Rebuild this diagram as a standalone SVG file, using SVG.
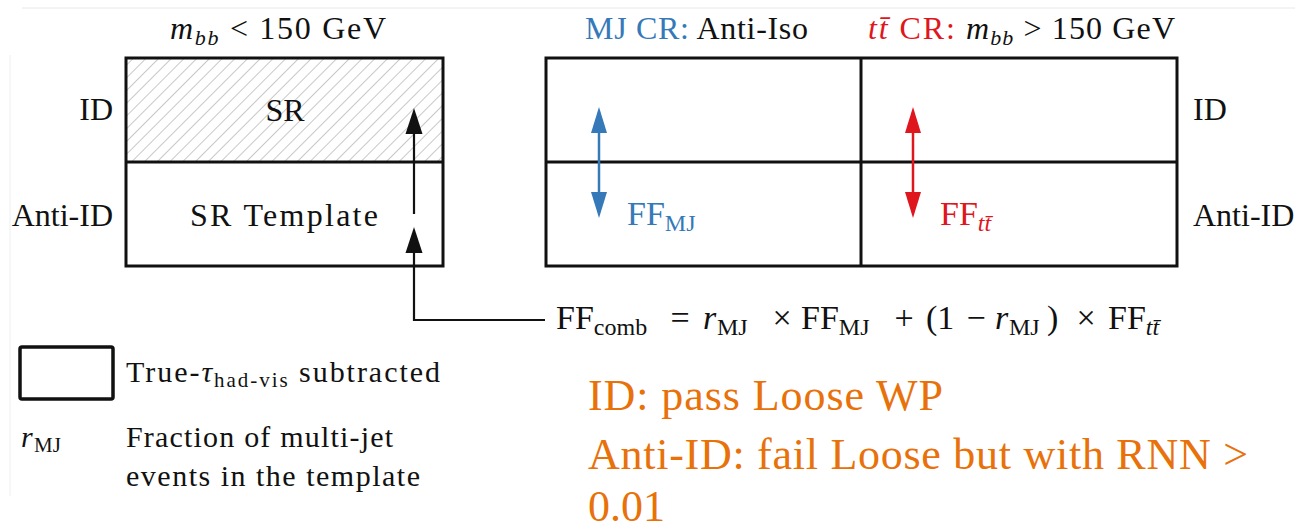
<svg xmlns="http://www.w3.org/2000/svg" width="1295" height="529" viewBox="0 0 1295 529">
<style>
text{font-family:"Liberation Serif","Times New Roman",serif;fill:#111}
.m{font-size:32px}
.f{font-size:34px}
.s{font-size:22px}
.fs{font-size:24px}
.l{font-size:30px}
.ls{font-size:21px}
.i{font-style:italic}
.blue{fill:#3579b8}
.red{fill:#e0161e}
.org{font-size:44px;fill:#e8710a}
.box{fill:none;stroke:#111;stroke-width:3}
.ln{stroke:#111;stroke-width:3;fill:none}
</style>
<defs>
<pattern id="hatch" patternUnits="userSpaceOnUse" width="9" height="9" patternTransform="rotate(45)">
<line x1="0" y1="0" x2="0" y2="9" stroke="#9a9a9a" stroke-width="1.1"/>
</pattern>
</defs>
<rect width="1295" height="529" fill="#fff"/>
<line x1="22" y1="8" x2="1295" y2="8" stroke="#e8e8e8" stroke-width="1"/>
<line x1="10" y1="55" x2="10" y2="496" stroke="#eeeeee" stroke-width="1"/>

<g id="sr-region">
<rect x="126" y="58" width="317" height="104" fill="url(#hatch)"/>
<rect class="box" x="126" y="58" width="317" height="208"/>
<line class="ln" x1="126" y1="162" x2="443" y2="162"/>
<text class="m" x="285" y="121" text-anchor="middle">SR</text>
<text class="m" x="190" y="226" textLength="188" lengthAdjust="spacing">SR Template</text>
<text class="m" x="113" y="120" text-anchor="end">ID</text>
<text class="m" x="113" y="226" text-anchor="end">Anti-ID</text>
<text class="m" x="170" y="39" textLength="216" lengthAdjust="spacing"><tspan class="i">m</tspan><tspan class="s i" dy="6">bb</tspan><tspan dy="-6"> &lt; 150 GeV</tspan></text>
</g>

<g id="cr-region">
<rect class="box" x="546" y="58" width="631" height="208"/>
<line class="ln" x1="861" y1="58" x2="861" y2="266"/>
<line class="ln" x1="546" y1="162" x2="1177" y2="162"/>
<text class="m" x="1193" y="120">ID</text>
<text class="m" x="1193" y="226">Anti-ID</text>
<text class="m" x="585" y="39" textLength="223" lengthAdjust="spacing"><tspan class="blue">MJ CR:</tspan> Anti-Iso</text>
<text class="m" x="868" y="39" textLength="87" lengthAdjust="spacing"><tspan class="red i">tt̄</tspan><tspan class="red"> CR:</tspan></text>
<text class="m" x="966" y="39" textLength="209" lengthAdjust="spacing"><tspan class="i">m</tspan><tspan class="s i" dy="6">bb</tspan><tspan dy="-6"> &gt; 150 GeV</tspan></text>
</g>

<g id="ff-mj">
<line x1="599" y1="128" x2="599" y2="198" stroke="#3579b8" stroke-width="2.5"/>
<polygon points="599,107 591,133 607,133" fill="#3579b8"/>
<polygon points="599,218 591,192 607,192" fill="#3579b8"/>
<text class="f blue" x="627" y="225">FF<tspan class="fs blue" dy="6">MJ</tspan></text>
</g>

<g id="ff-tt">
<line x1="913" y1="128" x2="913" y2="198" stroke="#e0161e" stroke-width="2.5"/>
<polygon points="913,107 905,133 921,133" fill="#e0161e"/>
<polygon points="913,218 905,192 921,192" fill="#e0161e"/>
<text class="f red" x="940" y="225">FF<tspan class="fs red i" dy="6">tt̄</tspan></text>
</g>

<g id="connectors">
<polyline points="545,320 414,320 414,250" fill="none" stroke="#111" stroke-width="2.2"/>
<polygon points="414,227 405.5,253 422.5,253" fill="#111"/>
<line x1="414" y1="214" x2="414" y2="130" stroke="#111" stroke-width="2.2"/>
<polygon points="414,108 405.5,134 422.5,134" fill="#111"/>
</g>

<g id="formula">
<text class="f" x="556" y="329">FF<tspan class="fs" dy="6">comb</tspan></text>
<text class="f" x="680" y="329" text-anchor="middle">=</text>
<text class="f i" x="703" y="329">r</text>
<text class="fs" x="717" y="335">MJ</text>
<text class="f" x="782" y="329" text-anchor="middle">×</text>
<text class="f" x="801" y="329">FF<tspan class="fs" dy="6">MJ</tspan></text>
<text class="f" x="904" y="329" text-anchor="middle">+</text>
<text class="f" x="926" y="329">(1</text>
<text class="f" x="976" y="329" text-anchor="middle">−</text>
<text class="f i" x="995" y="329">r</text>
<text class="fs" x="1009" y="335">MJ</text>
<text class="f" x="1047" y="329">)</text>
<text class="f" x="1086" y="329" text-anchor="middle">×</text>
<text class="f" x="1108" y="329">FF<tspan class="fs i" dy="6">tt̄</tspan></text>
</g>

<g id="legend">
<rect x="20" y="347" width="93" height="52" rx="2" fill="none" stroke="#111" stroke-width="3.5"/>
<text class="l" x="126" y="382" textLength="314" lengthAdjust="spacing">True-<tspan class="i">τ</tspan><tspan class="ls" dy="5">had-vis</tspan><tspan dy="-5"> subtracted</tspan></text>
<text class="l i" x="21" y="447">r</text>
<text class="ls" x="34" y="452">MJ</text>
<text class="l" x="126" y="447" textLength="267" lengthAdjust="spacing">Fraction of multi-jet</text>
<text class="l" x="126" y="486" textLength="294" lengthAdjust="spacing">events in the template</text>
</g>

<g id="note">
<text class="org" x="588" y="410" textLength="355" lengthAdjust="spacing">ID: pass Loose WP</text>
<text class="org" x="588" y="469" textLength="660" lengthAdjust="spacing">Anti-ID: fail Loose but with RNN &gt;</text>
<text class="org" x="588" y="521">0.01</text>
</g>
</svg>
